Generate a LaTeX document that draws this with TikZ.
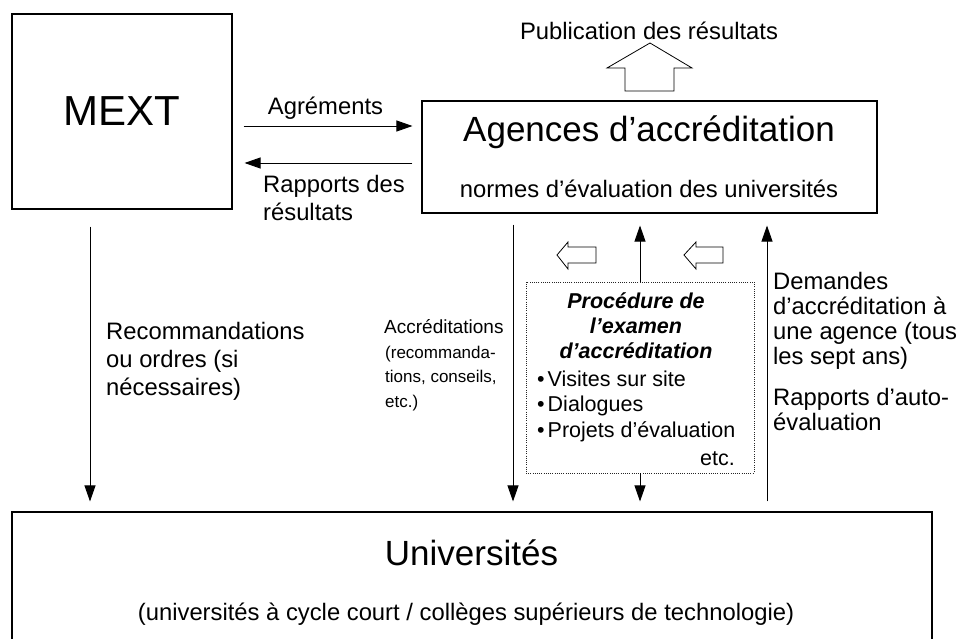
\documentclass[tikz,border=0pt]{standalone}
\usepackage{fontspec}
\setmainfont{Liberation Sans}
\usetikzlibrary{arrows.meta}
\begin{document}
\begin{tikzpicture}[x=1pt,y=-1pt,
  box/.style={draw, line width=1.1pt, inner sep=0pt},
  dotbox/.style={draw=black!85, line width=0.9pt, dash pattern=on 1pt off 1.2pt, inner sep=0pt},
  arr/.style={line width=0.9pt, -{Triangle[length=16pt,width=11pt]}},
  hollow/.style={draw, line width=0.8pt, fill=white},
  txt/.style={inner sep=0pt, font=\fontsize{23.8}{28}\selectfont},
  big/.style={inner sep=0pt, font=\fontsize{35}{40}\selectfont},
  acct/.style={inner sep=0pt, font=\fontsize{19}{23}\selectfont},
  accs/.style={inner sep=0pt, font=\fontsize{17}{21}\selectfont},
  proct/.style={inner sep=0pt, font=\fontsize{21.5}{25}\selectfont\bfseries\itshape},
  procb/.style={inner sep=0pt, font=\fontsize{21.5}{25}\selectfont}
]
\useasboundingbox (0,0) rectangle (961,639);

% boxes
\node[box, minimum width=220pt, minimum height=195pt, font=\fontsize{42}{46}\selectfont] (mext) at (122,111.5) {MEXT};
\node[box, minimum width=455pt, minimum height=112pt] (agences) at (649.5,157) {};
\node[box, minimum width=920pt, minimum height=130pt] (univ) at (472,577) {};
\node[dotbox, minimum width=228pt, minimum height=191pt] (proc) at (640,377.5) {};

% texts in boxes
\node[big, anchor=base] (agt) at (649,142) {Agences d’accréditation};
\node[txt, anchor=base] (ags) at (649,198) {normes d’évaluation des universités};
\node[big, anchor=base] (unt) at (471.5,565) {Universités};
\node[txt, anchor=base] (uns) at (466,620) {(universités à cycle court / collèges supérieurs de technologie)};

\node[proct, anchor=base] (p1) at (636,308) {Procédure de};
\node[proct, anchor=base] (p2) at (636,333) {l’examen};
\node[proct, anchor=base] (p3) at (636,358) {d’accréditation};
\node[procb, anchor=base west] (b1) at (537,386) {•\hspace{3pt}Visites sur site};
\node[procb, anchor=base west] (b2) at (537,411) {•\hspace{3pt}Dialogues};
\node[procb, anchor=base west] (b3) at (537,437) {•\hspace{3pt}Projets d’évaluation};
\node[procb, anchor=base east] (b4) at (735,465) {etc.};

% publication block arrow
\draw[hollow] (625,91) -- (625,68) -- (607,68) -- (650,43) -- (692,68) -- (674,68) -- (674,91) -- cycle;
\node[txt, anchor=base] (pub) at (649,40) {Publication des résultats};

% small hollow arrows
\draw[hollow] (557,255) -- (568,242) -- (568,247) -- (596,247) -- (596,263) -- (568,263) -- (568,269) -- cycle;
\draw[hollow] (684,255) -- (696,242) -- (696,247) -- (723,247) -- (723,263) -- (696,263) -- (696,269) -- cycle;

% horizontal connectors
\draw[arr, shorten <=11pt, shorten >=9pt] (mext.east |- 0,126) -- (agences.west |- 0,126);
\draw[arr, shorten <=9pt, shorten >=12pt] (agences.west |- 0,163) -- (mext.east |- 0,163);
\node[txt, anchor=base] (agr) at (325.5,115) {Agréments};
\node[txt, anchor=base west] (rap1) at (263,193) {Rapports des};
\node[txt, anchor=base west] (rap2) at (263,221) {résultats};

% vertical connectors
\draw[arr, shorten <=17pt, shorten >=10pt] (mext.south -| 90,0) -- (univ.north -| 90,0);
\draw[arr, shorten <=11pt, shorten >=10pt] (agences.south -| 513,0) -- (univ.north -| 513,0);
\draw[arr, shorten >=12pt] (proc.north) -- (agences.south -| proc.north);
\draw[arr, shorten >=10pt] (proc.south) -- (univ.north -| proc.south);
\draw[arr, shorten <=10pt, shorten >=12pt] (univ.north -| 767,0) -- (agences.south -| 767,0);

% side labels
\node[txt, anchor=base west] (rec1) at (106,339) {Recommandations};
\node[txt, anchor=base west] (rec2) at (106,367) {ou ordres (si};
\node[txt, anchor=base west] (rec3) at (106,395) {nécessaires)};

\node[acct, anchor=base west] (acc1) at (384,333) {Accréditations};
\node[accs, anchor=base west] (acc2) at (385,358) {(recommanda-};
\node[accs, anchor=base west] (acc3) at (385,382) {tions, conseils,};
\node[accs, anchor=base west] (acc4) at (385,407) {etc.)};

\node[txt, anchor=base west] (dem1) at (773,289) {Demandes};
\node[txt, anchor=base west] (dem2) at (773,314) {d’accréditation à};
\node[txt, anchor=base west] (dem3) at (773,339) {une agence (tous};
\node[txt, anchor=base west] (dem4) at (773,364) {les sept ans)};
\node[txt, anchor=base west] (aut1) at (773,405) {Rapports d’auto-};
\node[txt, anchor=base west] (aut2) at (773,430) {évaluation};
\end{tikzpicture}
\end{document}
